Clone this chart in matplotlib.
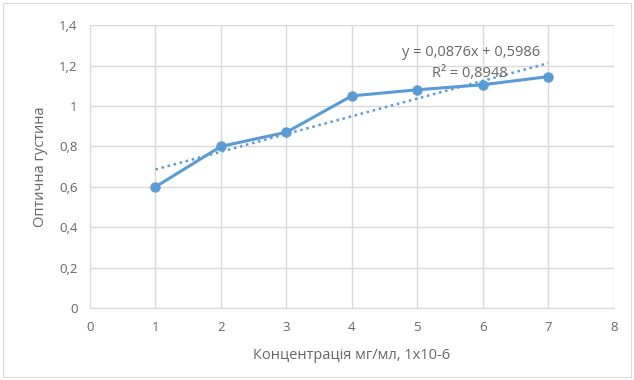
import matplotlib
matplotlib.use("Agg")
import matplotlib.pyplot as plt
from matplotlib.patches import Rectangle
import numpy as np

x = [1, 2, 3, 4, 5, 6, 7]
y = [0.60, 0.80, 0.87, 1.05, 1.08, 1.105, 1.145]
slope, intercept = 0.0876, 0.5986
eq_text = "y = 0,0876x + 0,5986"
r2_text = "R² = 0,8948"
xlabel = "Концентрація мг/мл, 1х10-6"
ylabel = "Оптична густина"
xticks = [0, 1, 2, 3, 4, 5, 6, 7, 8]
yticks = [0, 0.2, 0.4, 0.6, 0.8, 1.0, 1.2, 1.4]
ytick_labels = ["0", "0,2", "0,4", "0,6", "0,8", "1", "1,2", "1,4"]

plt.rcParams['font.family'] = ['Open Sans', 'DejaVu Sans']
tc = '#666666'
blue = '#5B9BD5'

fig = plt.figure(figsize=(6.34, 3.8), dpi=100)
fig.patches.append(Rectangle((0.005, 0.008), 0.99, 0.985, transform=fig.transFigure,
                             fill=False, edgecolor='#d9d9d9', linewidth=0.8))
ax = fig.add_axes([0.142, 0.189, 0.826, 0.745])

xs = np.array([x[0], x[-1]])
ax.plot(xs, slope * xs + intercept, linestyle=(0, (1, 1.5)), color=blue, linewidth=1.8, zorder=3)
ax.plot(x, y, color=blue, linewidth=2.2, marker='o', markersize=6.5, zorder=4)

ax.set_xlim(0, 8)
ax.set_ylim(0, 1.4)
ax.set_xticks(xticks)
ax.set_xticklabels([str(t) for t in xticks])
ax.set_yticks(yticks)
ax.set_yticklabels(ytick_labels)
ax.grid(True, color='#d9d9d9', linewidth=1.0)
ax.set_axisbelow(True)
for s in ['top', 'right']:
    ax.spines[s].set_visible(False)
for s in ['left', 'bottom']:
    ax.spines[s].set_color('#d9d9d9')
ax.tick_params(axis='both', length=0, labelcolor=tc, labelsize=9.5, pad=9)
ax.set_xlabel(xlabel, color=tc, fontsize=10.5, labelpad=10)
ax.set_ylabel(ylabel, color=tc, fontsize=10.5, labelpad=8)

ax.text(5.82, 1.262, eq_text, color=tc, fontsize=10.5, ha='center', va='center')
ax.text(5.8, 1.163, r2_text, color=tc, fontsize=10.5, ha='center', va='center')

fig.savefig("out.png", dpi=100)
